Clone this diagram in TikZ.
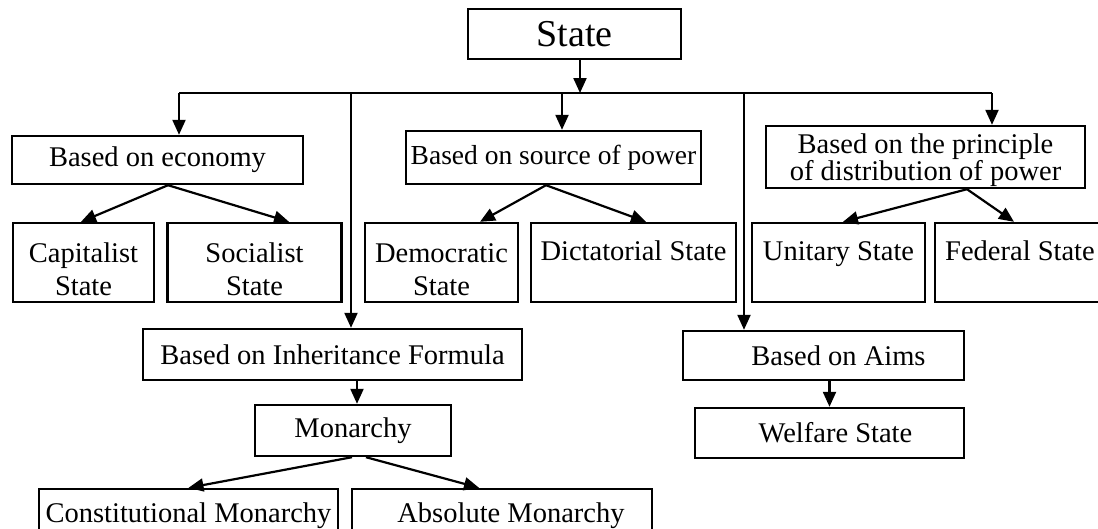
\documentclass[tikz,border=0pt]{standalone}
\usepackage{fontspec}
\setmainfont{Liberation Serif}
\usetikzlibrary{arrows.meta}
\newcommand{\dn}[1]{\rule{0pt}{#1pt}}
\begin{document}
\begin{tikzpicture}[x=1pt,y=-1pt,
 box/.style={draw,line width=2.4pt,inner sep=0pt,align=center,font=\fontsize{28.5}{33}\selectfont},
 conn/.style={line width=2.2pt},
 arr/.style={conn,-{Triangle[length=15pt,width=13pt]}}]
\clip (0,0) rectangle (1098,528);
\fill[white] (0,0) rectangle (1098,528);
% nodes
\node[box,font=\fontsize{38}{42}\selectfont,minimum width=213pt,minimum height=50pt] (state) at (574.5,34) {State};
\node[box,minimum width=291pt,minimum height=48pt] (econ) at (157.5,160) {Based on economy};
\node[box,minimum width=295pt,minimum height=53pt] (src) at (553.5,157.5) {\fontsize{27.5}{33}\selectfont Based on source of power};
\node[box,minimum width=319pt,minimum height=62pt,font=\fontsize{28.5}{20}\selectfont] (dist) at (925.5,157) {\dn{26}Based on the principle\\of distribution of power};
\node[box,minimum width=141pt,minimum height=79pt] (cap) at (83.5,262.5) {\dn{34}Capitalist\\State};
\node[box,minimum width=174pt,minimum height=79pt] (soc) at (254.5,262.5) {\dn{34}Socialist\\State};
\node[box,minimum width=153pt,minimum height=79pt] (dem) at (441.5,262.5) {\dn{34}Democratic\\State};
\node[box,minimum width=205pt,minimum height=79pt] (dict) at (633.5,262.5) {\dn{28}Dictatorial State\\\mbox{}};
\node[box,minimum width=173pt,minimum height=79pt] (uni) at (838.5,262.5) {\dn{28}Unitary State\\\mbox{}};
\node[box,minimum width=170pt,minimum height=79pt] (fed) at (1020,262.5) {\dn{28}Federal State\\\mbox{}};
\node[box,minimum width=379pt,minimum height=51pt] (inh) at (332.5,354.5) {Based on Inheritance Formula};
\node[box,minimum width=196pt,minimum height=51pt] (mon) at (353,430.5) {Monarchy};
\node[box,minimum width=281pt,minimum height=49pt] (aims) at (823.5,355.5) {\hspace*{30pt}Based on Aims};
\node[box,minimum width=269pt,minimum height=50pt] (wel) at (829.5,433) {\hspace*{12pt}Welfare State};
\node[box,minimum width=299pt,minimum height=53pt] (const) at (188.5,515.5) {Constitutional Monarchy};
\node[box,minimum width=300pt,minimum height=53pt] (absm) at (502,515.5) {\hspace*{18pt}Absolute Monarchy};
% trunk
\coordinate (hL) at (179,93);
\coordinate (hR) at (992,93);
\coordinate (h2) at (351,93);
\coordinate (h3) at (562,93);
\coordinate (h4) at (744,93);
\coordinate (sA) at ([xshift=5.5pt]state.south);
\draw[arr] (sA) -- (sA |- hL);
\draw[conn] (hL) -- (hR);
\draw[arr] (hL) -- (hL |- econ.north);
\draw[arr] (h2) -- (h2 |- inh.north);
\draw[arr] (h3) -- (h3 |- src.north);
\draw[arr] (h4) -- (h4 |- aims.north);
\draw[arr] (hR) -- (hR |- dist.north);
% branches
\draw[arr] ([xshift=10.5pt]econ.south) -- ([xshift=-2.5pt]cap.north);
\draw[arr] ([xshift=10.5pt]econ.south) -- ([xshift=34.5pt]soc.north);
\draw[arr] ([xshift=-7.5pt]src.south) -- ([xshift=38.5pt]dem.north);
\draw[arr] ([xshift=-7.5pt]src.south) -- ([xshift=12.5pt]dict.north);
\draw[arr] ([xshift=41.5pt]dist.south) -- ([xshift=4.5pt]uni.north);
\draw[arr] ([xshift=41.5pt]dist.south) -- ([xshift=-6pt]fed.north);
\coordinate (m1) at ([xshift=4pt]mon.north);
\draw[arr] (m1 |- inh.south) -- (m1);
\draw[arr] ([xshift=-1pt]mon.south) -- (const.north);
\draw[arr] ([xshift=13pt]mon.south) -- ([xshift=-23pt]absm.north);
\draw[arr] (wel.north |- aims.south) -- (wel.north);
\end{tikzpicture}
\end{document}
